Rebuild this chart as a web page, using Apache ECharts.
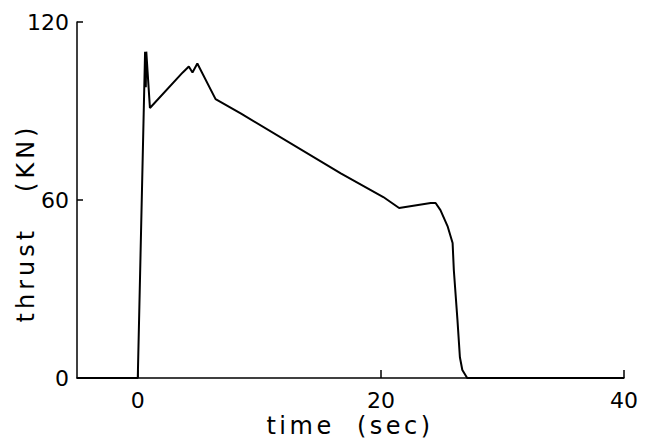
<!DOCTYPE html>
<html><head><meta charset="utf-8">
<script src="https://cdn.jsdelivr.net/npm/echarts@6/dist/echarts.min.js"></script>
<style>html,body{margin:0;padding:0;background:#fff}#c{width:655px;height:441px}</style>
</head><body><div id="c"></div>
<script>
var timeSec = [-5, 0, 0.6, 0.66, 0.7, 1.0, 3.7, 4.2, 4.5, 4.9, 6.4, 8.5, 16.7, 20.2, 21.5, 24.1, 24.5, 24.9, 25.5, 25.9, 26.0, 26.3, 26.5, 26.7, 27.1, 40];
var thrustKN = [0, 0, 110, 98, 110, 91, 103, 105, 103, 106, 94, 89.1, 69, 61, 57.3, 59, 59, 56.6, 51, 45.5, 36.4, 19.5, 7, 2.7, 0, 0];
var xTicks = [0, 20, 40];
var yTicks = [0, 60, 120];
var xName = 'time  (sec)';
var yName = 'thrust   (KN)';

var data = timeSec.map(function(t, i){ return [t, thrustKN[i]]; });
var font = 'DejaVu Sans';
var chart = echarts.init(document.getElementById('c'), null, {renderer: 'svg'});
chart.setOption({
  backgroundColor: '#fff',
  animation: false,
  grid: {left: 77, right: 31, top: 22, bottom: 63},
  xAxis: {
    type: 'value', min: -5, max: 40,
    splitLine: {show: false},
    axisLine: {onZero: false, lineStyle: {color: '#000', width: 1.5}},
    axisTick: {inside: true, length: 8, lineStyle: {color: '#000', width: 1.5}, customValues: xTicks},
    axisLabel: {customValues: xTicks, color: '#000', fontSize: 22, fontFamily: font, margin: 11}
  },
  yAxis: {
    type: 'value', min: 0, max: 120, interval: 60,
    splitLine: {show: false},
    axisLine: {show: true, onZero: false, lineStyle: {color: '#000', width: 1.5}},
    axisTick: {show: true, inside: true, length: 6, lineStyle: {color: '#000', width: 1.5}, customValues: [60, 120]},
    axisLabel: {customValues: yTicks, color: '#000', fontSize: 22, fontFamily: font, margin: 8}
  },
  graphic: [
    {type: 'text', x: 350, y: 426, style: {text: xName, font: '24px "DejaVu Sans"', fill: '#000', textAlign: 'center', textVerticalAlign: 'middle'}},
    {type: 'text', x: 26, y: 223, rotation: Math.PI/2, style: {text: yName, font: '24px "DejaVu Sans"', fill: '#000', textAlign: 'center', textVerticalAlign: 'middle'}}
  ],
  series: [{
    type: 'line', data: data, symbol: 'none',
    lineStyle: {color: '#000', width: 2}
  }]
});
function spaceNames(){
  var texts = document.querySelectorAll('#c text');
  texts.forEach(function(t){
    var s = t.textContent;
    if (s === xName) t.style.letterSpacing = '3.5px';
    if (s === yName) t.style.letterSpacing = '4px';
  });
}
spaceNames();
chart.on('finished', spaceNames);
setTimeout(spaceNames, 0);
</script></body></html>
